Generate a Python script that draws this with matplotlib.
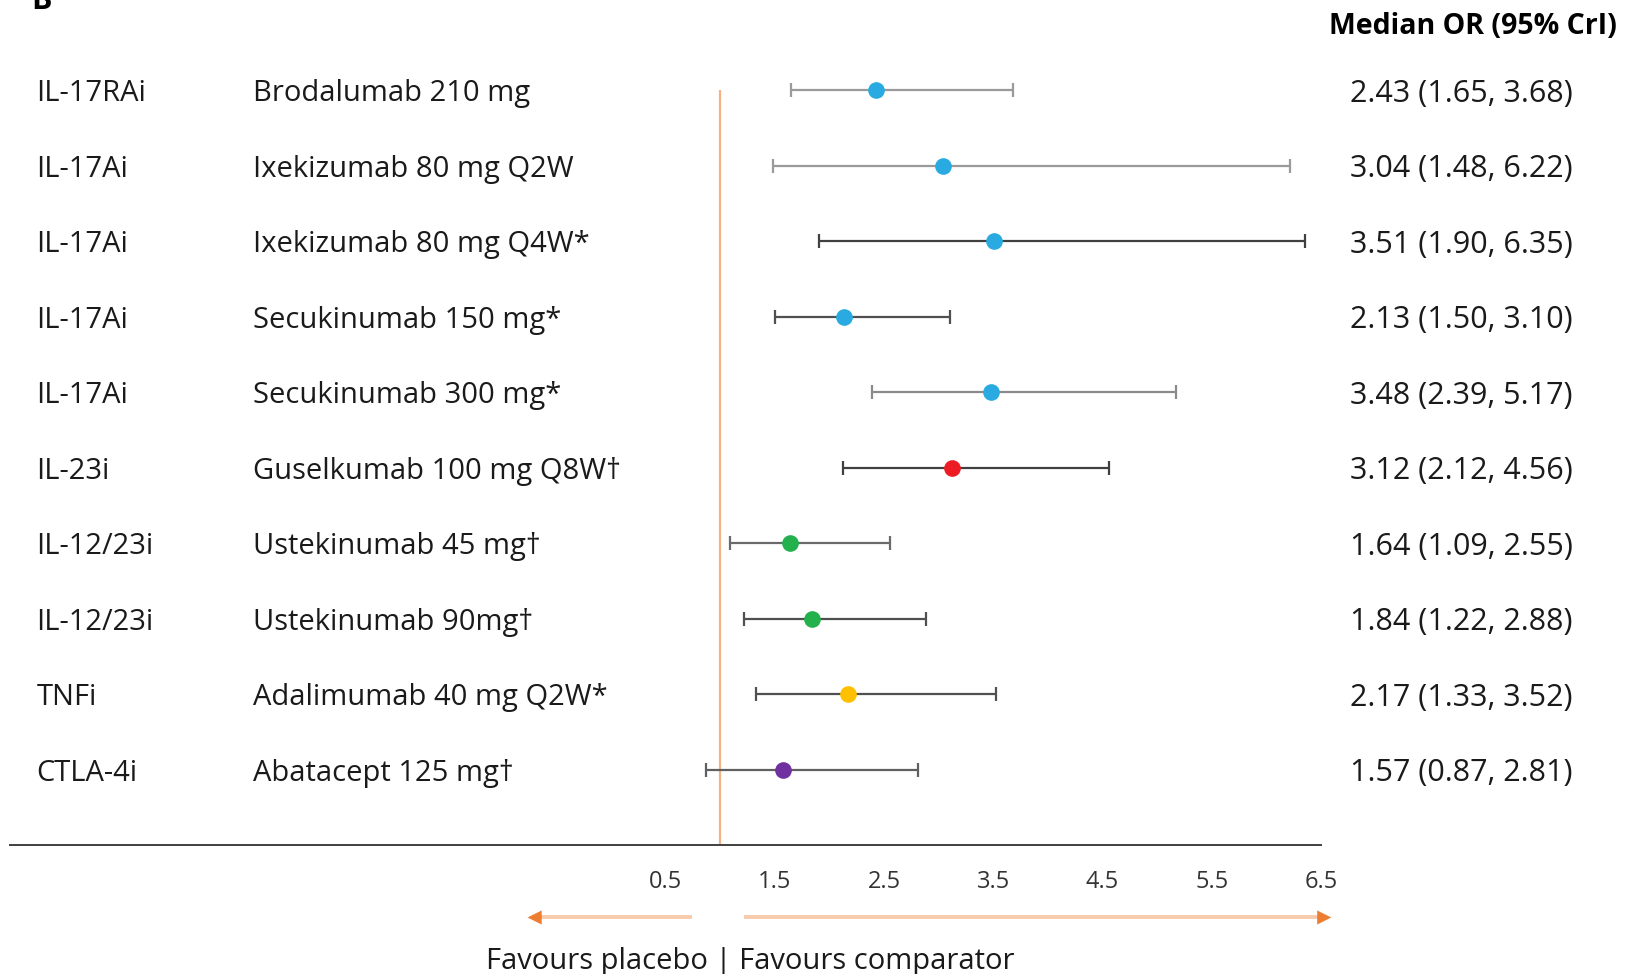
import numpy as np
import matplotlib
matplotlib.use("Agg")
import matplotlib.pyplot as plt

plt.rcParams['font.family'] = ['Open Sans', 'DejaVu Sans']

# ---------- data

classes = ["IL-17RAi", "IL-17Ai", "IL-17Ai", "IL-17Ai", "IL-17Ai",
           "IL-23i", "IL-12/23i", "IL-12/23i", "TNFi", "CTLA-4i"]
drugs = ["Brodalumab 210 mg", "Ixekizumab 80 mg Q2W", "Ixekizumab 80 mg Q4W*",
         "Secukinumab 150 mg*", "Secukinumab 300 mg*", "Guselkumab 100 mg Q8W\u2020",
         "Ustekinumab 45 mg\u2020", "Ustekinumab 90mg\u2020", "Adalimumab 40 mg Q2W*",
         "Abatacept 125 mg\u2020"]
median = [2.43, 3.04, 3.51, 2.13, 3.48, 3.12, 1.64, 1.84, 2.17, 1.57]
lower  = [1.65, 1.48, 1.90, 1.50, 2.39, 2.12, 1.09, 1.22, 1.33, 0.87]
upper  = [3.68, 6.22, 6.35, 3.10, 5.17, 4.56, 2.55, 2.88, 3.52, 2.81]
ticks = [0.5, 1.5, 2.5, 3.5, 4.5, 5.5, 6.5]

dot_col = ["#29ABE2"] * 5 + ["#ED1C24", "#22B14C", "#22B14C", "#FFC000", "#7030A0"]
bar_col = ["#9a9a9a", "#9a9a9a", "#404040", "#505050", "#8a8a8a",
           "#404040", "#6a6a6a", "#505050", "#505050", "#606060"]

# ---------- plot

fig = plt.figure(figsize=(16.3, 9.74), dpi=100)
ax = fig.add_axes([0.0064, 0.1324, 0.804, 0.946 - 0.1324])
ax.set_xlim(-5.5, 6.5)
ax.set_ylim(10, -0.5)

rows = np.arange(len(median))
ax.vlines(1.0, 0, 10, color="#F4B183", lw=1.6, zorder=1)

for i in rows:
    ax.errorbar(median[i], i,
                xerr=[[median[i] - lower[i]], [upper[i] - median[i]]],
                fmt='none', ecolor=bar_col[i], elinewidth=1.6,
                capsize=5, capthick=1.6, zorder=2)
    ax.plot(median[i], i, 'o', color=dot_col[i], ms=12, mec='none', zorder=3)

fs = 21
ytr = ax.get_yaxis_transform()
for i in rows:
    ax.text(0.0198, i, classes[i], transform=ytr, fontsize=fs,
            va='center_baseline', ha='left', color="#1a1a1a")
    ax.text(0.185, i, drugs[i], transform=ytr, fontsize=fs,
            va='center_baseline', ha='left', color="#1a1a1a")
    ax.text(1.192, i, "%.2f (%.2f, %.2f)" % (median[i], lower[i], upper[i]),
            transform=ytr, fontsize=22, va='center_baseline', ha='right',
            color="#1a1a1a", clip_on=False)

ax.text(1.226, -0.893, "Median OR (95% CrI)", transform=ytr, fontsize=20.5,
        fontweight='bold', va='center_baseline', ha='right', clip_on=False)
fig.text(0.019, 0.991, "B", fontsize=22, fontweight='bold', va='baseline')

for s in ['top', 'right', 'left']:
    ax.spines[s].set_visible(False)
ax.spines['bottom'].set_color("#404040")
ax.spines['bottom'].set_linewidth(1.4)
ax.set_yticks([])
ax.set_xticks(ticks)
ax.set_xticklabels(["%.1f" % t for t in ticks], fontsize=17, color="#333333")
ax.tick_params(axis='x', length=0, pad=18)

# favours arrows under the axis
ay = 10.96
ax.plot([0.74, -0.72], [ay, ay], color="#F8CBAD", lw=2.8, clip_on=False,
        solid_capstyle='butt')
ax.plot([1.214, 6.55], [ay, ay], color="#F8CBAD", lw=2.8, clip_on=False,
        solid_capstyle='butt')
ax.annotate("", xy=(-0.79, ay), xytext=(-0.60, ay), annotation_clip=False,
            arrowprops=dict(arrowstyle='-|>', color="#ED7D31", lw=0.1,
                            mutation_scale=25))
ax.annotate("", xy=(6.62, ay), xytext=(6.43, ay), annotation_clip=False,
            arrowprops=dict(arrowstyle='-|>', color="#ED7D31", lw=0.1,
                            mutation_scale=25))
ax.text(1.27, 11.5, "Favours placebo | Favours comparator", fontsize=fs,
        ha='center', va='center_baseline', color="#1a1a1a", clip_on=False)

plt.savefig("out.png", dpi=100)
plt.close()
